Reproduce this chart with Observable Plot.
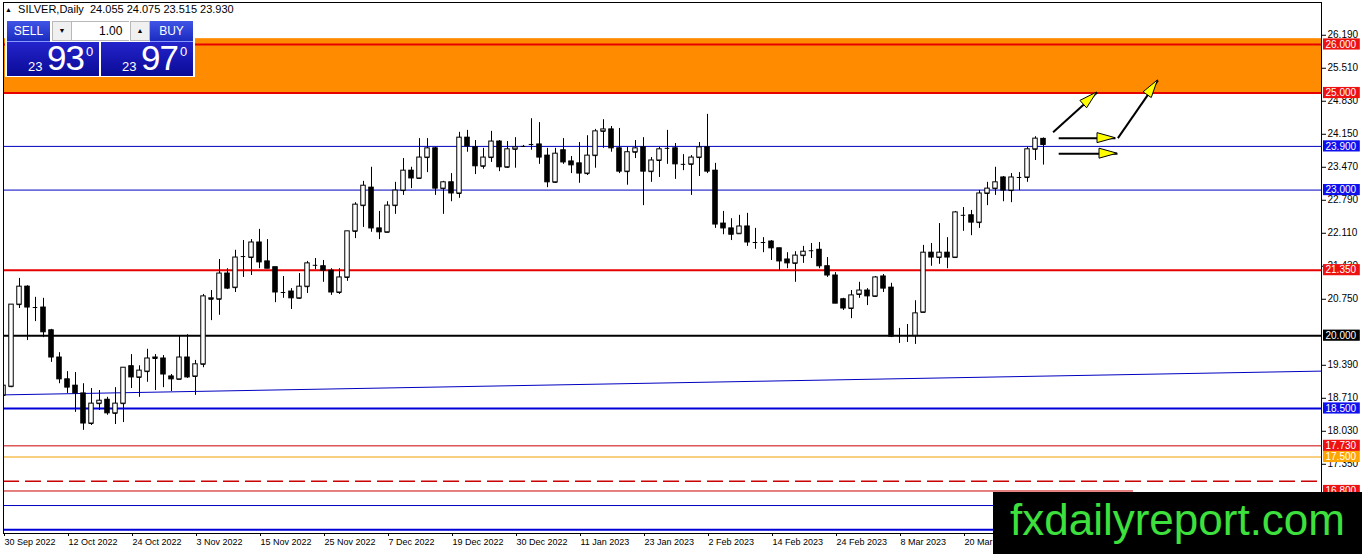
<!DOCTYPE html>
<html>
<head>
<meta charset="utf-8">
<script src="https://cdn.jsdelivr.net/npm/d3@7"></script>
<script src="https://cdn.jsdelivr.net/npm/@observablehq/plot@0.6"></script>
<style>
  body { margin: 0; background: #fff; font-family: "Liberation Sans", Arial, sans-serif; }
  #wrap { position: relative; width: 1362px; height: 554px; overflow: hidden; }
  #chart { position: absolute; left: 0; top: 0; }
  #title { position: absolute; left: 5px; top: 3px; font-size: 11px; line-height: 13px; color: #000; white-space: pre; }
  #title .tri { font-size: 7px; vertical-align: 1px; }
  #panel { position: absolute; left: 5px; top: 19px; width: 190px; height: 58px; background: #fff; }
  .btn { position: absolute; top: 2px; width: 43px; height: 20px; color: #fff; font-size: 12px; line-height: 20px; text-align: center;
         background: linear-gradient(#4054e6, #1a2cc0); border-bottom: 1px solid #8a96ff; }
  .spin { position: absolute; top: 2px; width: 18px; height: 18px; background: #f0f0f0; border: 1px solid #b8b8b8; font-size: 7px; line-height: 18px; text-align: center; color: #000; }
  #lot { position: absolute; left: 66px; top: 2px; width: 58px; height: 18px; border-top: 1px solid #b8b8b8; border-bottom: 1px solid #b8b8b8; font-size: 12px; line-height: 18px; text-align: right; color: #000; }
  .price { position: absolute; top: 23px; width: 92px; height: 34px; color: #fff;
           background: linear-gradient(#2424cc, #0a0a96); }
  .price .s { position: absolute; left: 21px; top: 17px; font-size: 13px; }
  .price .b { position: absolute; left: 40px; top: -4px; font-size: 35px; letter-spacing: -1px; }
  .price .e { position: absolute; left: 79px; top: 2px; font-size: 13px; }
  #logo { position: absolute; left: 993px; top: 492px; width: 369px; height: 62px; background: #000; }
</style>
</head>
<body>
<div id="wrap">
  <div id="chart"></div>
  <div id="title"><span class="tri">▲</span>  SILVER,Daily  24.055 24.075 23.515 23.930</div>
  <div id="panel">
    <div class="btn" style="left:2px">SELL</div>
    <div class="spin" style="left:47px">▼</div>
    <div id="lot">1.00&nbsp;&nbsp;</div>
    <div class="spin" style="left:125px">▲</div>
    <div class="btn" style="left:145px">BUY</div>
    <div class="price" style="left:2px"><span class="s">23</span><span class="b">93</span><span class="e">0</span></div>
    <div class="price" style="left:96px"><span class="s">23</span><span class="b">97</span><span class="e">0</span></div>
  </div>
  <div id="logo">
    <svg width="369" height="62"><text x="17" y="43" font-family="Liberation Sans, Arial, sans-serif" font-size="44" fill="#3de03d" textLength="335" lengthAdjust="spacingAndGlyphs">fxdailyreport.com</text></svg>
  </div>
</div>
<script>
// daily OHLC, 30 Sep 2022 -> 30 Mar 2023
const opens = [
  18.77, 18.95, 20.64, 21.01, 20.58, 20.58, 20.11, 19.55, 19.10, 18.97,
  18.81, 18.19, 18.60, 18.68, 18.40, 18.60, 19.37, 19.14, 19.26, 19.53,
  19.53, 19.16, 19.10, 19.55, 19.16, 19.41, 20.75, 20.75, 21.28, 20.99,
  21.63, 21.61, 21.92, 21.53, 21.41, 20.89, 20.91, 20.77, 21.01, 21.45,
  21.43, 21.34, 20.89, 21.20, 22.15, 22.68, 23.05, 22.21, 22.13, 22.68,
  22.99, 23.40, 23.24, 23.67, 23.86, 23.03, 23.16, 22.93, 24.08, 23.88,
  23.49, 23.67, 24.00, 23.47, 23.84, 23.90, 23.94, 23.94, 23.71, 23.16,
  23.82, 23.59, 23.55, 23.34, 23.71, 24.21, 24.25, 23.86, 23.38, 23.78,
  23.88, 23.38, 23.61, 23.86, 23.86, 23.53, 23.53, 23.67, 23.88, 23.40,
  22.31, 22.21, 22.10, 22.25, 21.92, 21.92, 21.94, 21.80, 21.57, 21.49,
  21.65, 21.75, 21.77, 21.43, 21.24, 20.75, 20.56, 20.85, 20.93, 20.81,
  21.22, 20.99, 20.00, 20.00, 20.00, 20.48, 21.71, 21.61, 21.71, 21.61,
  22.48, 22.48, 22.33, 22.93, 23.03, 23.26, 22.99, 23.26, 23.26, 23.84, 24.055
];
const highs = [
  19.22, 20.64, 21.18, 21.03, 20.79, 20.77, 20.13, 19.65, 19.26, 19.24,
  19.01, 18.91, 18.87, 18.73, 18.93, 19.34, 19.61, 19.38, 19.72, 19.61,
  19.59, 19.20, 20.00, 20.02, 19.49, 20.85, 20.93, 21.57, 21.38, 21.76,
  21.96, 21.98, 22.19, 21.98, 21.41, 21.22, 20.97, 21.28, 21.53, 21.59,
  21.55, 21.38, 21.38, 22.15, 22.74, 23.18, 23.47, 22.56, 22.76, 23.16,
  23.65, 23.47, 24.06, 24.06, 23.88, 23.18, 23.34, 24.19, 24.23, 24.02,
  23.86, 24.21, 24.02, 24.00, 24.08, 23.92, 24.47, 24.39, 23.86, 23.86,
  24.06, 23.69, 23.98, 24.12, 24.25, 24.45, 24.31, 24.27, 23.88, 24.02,
  24.08, 23.67, 23.88, 24.23, 23.96, 23.73, 23.71, 23.98, 24.56, 23.55,
  22.56, 22.41, 22.48, 22.52, 22.21, 22.02, 21.96, 21.80, 21.71, 21.73,
  21.84, 21.90, 21.92, 21.61, 21.30, 20.77, 20.93, 21.10, 20.97, 21.22,
  21.26, 21.08, 20.15, 20.23, 20.72, 21.86, 21.90, 22.31, 22.02, 22.56,
  22.64, 22.58, 22.99, 23.16, 23.47, 23.28, 23.34, 23.36, 23.88, 24.10, 24.075
];
const lows = [
  18.72, 18.93, 20.56, 19.90, 20.29, 19.96, 19.45, 19.01, 18.81, 18.42,
  18.05, 18.15, 18.46, 18.36, 18.17, 18.21, 18.91, 18.73, 19.04, 18.87,
  18.93, 18.85, 19.10, 19.12, 18.77, 19.34, 20.31, 20.42, 20.95, 20.89,
  21.20, 21.24, 21.38, 21.38, 20.68, 20.77, 20.54, 20.75, 20.87, 21.36,
  21.10, 20.83, 20.85, 21.12, 22.00, 22.23, 22.13, 21.98, 22.13, 22.50,
  22.89, 23.03, 23.22, 23.36, 22.89, 22.50, 22.76, 22.83, 23.78, 23.32,
  23.43, 23.57, 23.38, 23.45, 23.45, 23.88, 23.82, 23.53, 23.05, 23.14,
  23.53, 23.34, 23.14, 23.30, 23.45, 23.86, 23.78, 23.34, 23.10, 23.65,
  22.68, 23.16, 23.26, 23.53, 23.22, 23.40, 22.89, 23.28, 23.34, 22.21,
  22.08, 21.96, 22.10, 21.84, 21.78, 21.71, 21.55, 21.34, 21.38, 21.10,
  21.49, 21.59, 21.38, 21.20, 20.66, 20.52, 20.35, 20.77, 20.62, 20.79,
  20.89, 19.96, 19.84, 19.86, 19.82, 20.48, 21.43, 21.47, 21.38, 21.61,
  22.15, 22.06, 22.21, 22.68, 22.89, 22.76, 22.74, 22.99, 23.16, 23.61, 23.515
];
const closes = [
  18.97, 20.64, 21.01, 20.58, 20.58, 20.07, 19.55, 19.10, 18.93, 18.81,
  18.19, 18.60, 18.66, 18.40, 18.60, 19.34, 19.14, 19.28, 19.53, 19.55,
  19.20, 19.10, 19.55, 19.14, 19.41, 20.81, 20.77, 21.28, 20.97, 21.61,
  21.63, 21.92, 21.51, 21.38, 20.89, 20.89, 20.77, 21.01, 21.49, 21.45,
  21.34, 20.89, 21.20, 22.15, 22.70, 23.09, 22.21, 22.13, 22.68, 22.99,
  23.40, 23.24, 23.67, 23.86, 23.03, 23.16, 22.93, 24.08, 23.90, 23.49,
  23.67, 24.00, 23.47, 23.84, 23.88, 23.90, 23.94, 23.67, 23.16, 23.75,
  23.57, 23.51, 23.34, 23.71, 24.21, 24.25, 23.86, 23.38, 23.78, 23.86,
  23.38, 23.61, 23.84, 23.86, 23.53, 23.53, 23.67, 23.88, 23.38, 22.29,
  22.21, 22.08, 22.25, 21.92, 21.92, 21.92, 21.80, 21.53, 21.49, 21.65,
  21.73, 21.75, 21.43, 21.24, 20.66, 20.56, 20.83, 20.93, 20.81, 21.20,
  20.97, 19.98, 20.00, 20.00, 20.46, 21.71, 21.61, 21.71, 21.61, 22.54,
  22.48, 22.33, 22.93, 23.03, 23.16, 22.99, 23.26, 23.26, 23.84, 24.06, 23.93
];

// bar index of each date label on the time axis
const xTickIdx = [0, 8, 16, 24, 32, 40, 48, 56, 64, 72, 80, 88, 96, 104, 112, 120];
const xTickLabels = ["30 Sep 2022", "12 Oct 2022", "24 Oct 2022", "3 Nov 2022", "15 Nov 2022", "25 Nov 2022",
  "7 Dec 2022", "19 Dec 2022", "30 Dec 2022", "11 Jan 2023", "23 Jan 2023", "2 Feb 2023",
  "14 Feb 2023", "24 Feb 2023", "8 Mar 2023", "20 Mar 2023"];
// price scale ticks; 20.070 and 16.670 sit fully under the level tags / logo
const yTicks = [26.19, 25.51, 24.83, 24.15, 23.47, 22.79, 22.11, 21.43, 20.75, 19.39, 18.71, 18.03, 17.35];

// drawn levels
const zoneBounds = [25, 26.12];
const redLevels = [26, 25, 21.35];
const blueLevels = [23.9, 23.0];
const blackLevels = [20];
const blueBoldLevels = [18.5, 16.0];
const thinRedLevels = [17.73];
const goldLevels = [17.5];
const dashedLevels = [17.0];
const blueLowLevels = [16.5];
const shortRedLevels = [16.8];
const shortRedEnd = 141.25; // bar index where the 16.80 line stops

// rising trend line (bar index, price)
const trendIdx = [0, 164.75];
const trendPrice = [18.78, 19.27];

// annotation arrows: start / end (bar index, price)
const arrowX1 = [131.2, 131.9, 131.9, 139.3];
const arrowY1 = [24.19, 24.07, 23.75, 24.07];
const arrowX2 = [136.7, 139.0, 139.25, 144.3];
const arrowY2 = [25.01, 24.07, 23.75, 25.26];

const idx = d3.range(opens.length);
const half = 0.28;

const labelRows = [
  ...redLevels.map(p => ({p, bg: "#ee1111"})),
  ...blueLevels.map(p => ({p, bg: "#1010ee"})),
  ...blackLevels.map(p => ({p, bg: "#000000"})),
  {p: blueBoldLevels[0], bg: "#1010ee"},
  ...thinRedLevels.map(p => ({p, bg: "#ee1111"})),
  ...goldLevels.map(p => ({p, bg: "#ffa500"})),
  ...shortRedLevels.map(p => ({p, bg: "#ee1111"}))
];
const boxX1 = 165, boxX2 = 169.6, boxH = 0.115;
const arrows = d3.range(arrowX1.length);

const chart = Plot.plot({
  width: 1362,
  height: 554,
  marginLeft: 3,
  marginRight: 41,
  marginTop: 2,
  marginBottom: 21,
  x: {type: "linear", domain: [0, 164.75], label: null},
  y: {domain: [15.924, 26.865], label: null},
  style: {background: "white", color: "black", fontFamily: "Liberation Sans, Arial, sans-serif", fontSize: "10px", overflow: "visible"},
  marks: [
    Plot.rect([zoneBounds], {y1: d => d[0], y2: d => d[1], fill: "#ff8c00"}),
    Plot.ruleY(redLevels, {stroke: "#e60000", strokeWidth: 2}),
    Plot.ruleY(blueLevels, {stroke: "#0000c0", strokeWidth: 1}),
    Plot.ruleY(blackLevels, {stroke: "#000", strokeWidth: 2}),
    Plot.ruleY(blueBoldLevels, {stroke: "#0000d8", strokeWidth: 2}),
    Plot.ruleY(thinRedLevels, {stroke: "#cc0000", strokeWidth: 1}),
    Plot.ruleY(goldLevels, {stroke: "#f0a000", strokeWidth: 1}),
    Plot.ruleY(dashedLevels, {stroke: "#c80000", strokeWidth: 1.5, strokeDasharray: "16,6"}),
    Plot.ruleY(blueLowLevels, {stroke: "#0000c0", strokeWidth: 1}),
    Plot.ruleY(shortRedLevels, {x1: 0, x2: shortRedEnd, stroke: "#cc0000", strokeWidth: 1}),
    Plot.line(trendIdx, {x: trendIdx, y: trendPrice, stroke: "#0000c0", strokeWidth: 1, clip: true}),
    // candles
    Plot.ruleX(idx, {x: i => i, y1: i => lows[i], y2: i => highs[i], stroke: "#000", clip: true}),
    Plot.ruleY(idx, {x1: i => i - half, x2: i => i + half, y: i => opens[i], stroke: "#000", clip: true}),
    Plot.rect(idx, {
      x1: i => i - half, x2: i => i + half,
      y1: i => opens[i], y2: i => closes[i],
      fill: i => closes[i] > opens[i] ? "white" : "black",
      stroke: "#000", clip: true
    }),
    Plot.link(arrows, {x1: i => arrowX1[i], y1: i => arrowY1[i], x2: i => arrowX2[i], y2: i => arrowY2[i], stroke: "#000", strokeWidth: 2}),
    Plot.frame({stroke: "#000"}),
    Plot.axisX(xTickIdx, {anchor: "bottom", label: null, tickSize: 3, tickPadding: 2, textAnchor: "start", dx: 1, fontSize: 9,
      tickFormat: d => xTickLabels[xTickIdx.indexOf(d)]}),
    Plot.axisY(yTicks, {anchor: "right", label: null, tickSize: 4, tickPadding: 2, fontSize: 10, tickFormat: d => d.toFixed(3)}),
    Plot.rect(labelRows, {x1: boxX1, x2: boxX2, y1: d => d.p - boxH, y2: d => d.p + boxH, fill: d => d.bg}),
    Plot.text(labelRows, {x: boxX1, y: "p", text: d => d.p.toFixed(3), textAnchor: "start", dx: 2, fill: "white", fontSize: 10})
  ]
});

document.getElementById("chart").appendChild(chart);

// yellow arrow heads placed with the plot's own scales
const sx = chart.scale("x"), sy = chart.scale("y");
const px = d3.scaleLinear(sx.domain, sx.range), py = d3.scaleLinear(sy.domain, sy.range);
d3.select(chart).append("g")
  .selectAll("path")
  .data(arrows)
  .join("path")
  .attr("d", i => {
    const x0 = px(arrowX1[i]), y0 = py(arrowY1[i]);
    const x1 = px(arrowX2[i]), y1 = py(arrowY2[i]);
    const len = Math.hypot(x1 - x0, y1 - y0);
    const ux = (x1 - x0) / len, uy = (y1 - y0) / len;
    const bx = x1 - ux * 18, by = y1 - uy * 18;
    return `M${x1},${y1}L${bx - uy * 5},${by + ux * 5}L${bx + uy * 5},${by - ux * 5}Z`;
  })
  .attr("fill", "#ffff00")
  .attr("stroke", "#000")
  .attr("stroke-width", 1);
</script>
</body>
</html>
